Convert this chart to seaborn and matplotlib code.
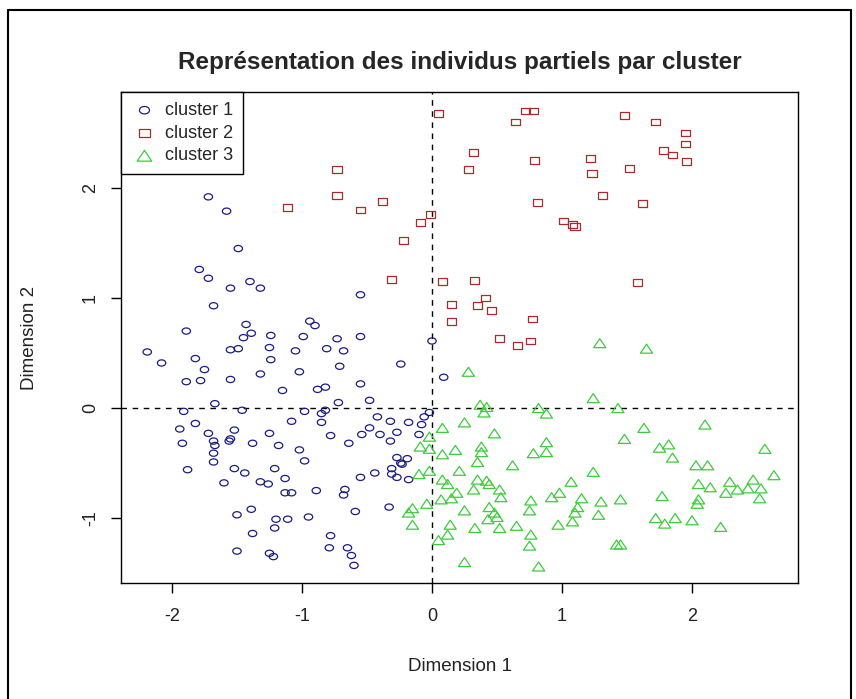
import matplotlib
matplotlib.use("Agg")
import matplotlib.pyplot as plt
from matplotlib.markers import MarkerStyle
from matplotlib.transforms import Affine2D
from matplotlib.lines import Line2D
import seaborn as sns

# cluster 1 (cercles bleus)
c1_x = [-1.72, -1.58, -1.49, -1.79, -1.72, -1.55, -1.40, -1.32, -1.68, -1.89,
        -1.43, -1.39, -1.45, -1.24, -0.94, -0.90, -0.99, -0.73, -2.19, -2.08,
        -1.82, -1.55, -1.49, -1.25, -1.24, -1.05, -0.81, -0.68, -0.71, -1.75,
        -1.89, -1.78, -1.55, -1.32, -1.02, -1.15, -0.88, -0.82, -0.72, -1.67,
        -1.91, -1.46, -0.98, -0.82, -0.85, -0.55, -0.55, -0.24, 0.00, 0.09,
        -0.55, -0.48, -0.02, -1.82, -1.08, -0.85, -1.94, -1.72, -1.52, -1.25,
        -0.78, -1.92, -1.68, -1.67, -1.55, -1.56, -1.38, -1.18, -1.02, -1.68,
        -1.68, -0.98, -0.64, -1.88, -1.52, -1.44, -1.21, -1.60, -1.32, -1.26,
        -1.13, -1.13, -1.08, -0.89, -0.67, -0.68, -1.39, -1.50, -1.20, -1.11,
        -0.95, -1.21, -1.38, -0.78, -0.79, -0.65, -1.50, -1.25, -1.22, -0.42,
        -0.32, -0.18, -0.08, -0.06, -0.48, -0.54, -0.40, -0.27, -0.10, -0.32,
        -0.27, -0.19, -0.23, -0.24, -0.31, -0.31, -0.27, -0.44, -0.55, -0.18,
        -0.59, -0.33, -0.62, -0.60]
c1_y = [1.92, 1.79, 1.45, 1.26, 1.18, 1.09, 1.15, 1.09, 0.93, 0.70,
        0.76, 0.68, 0.64, 0.66, 0.79, 0.75, 0.65, 0.63, 0.51, 0.41,
        0.45, 0.53, 0.54, 0.55, 0.44, 0.52, 0.54, 0.52, 0.38, 0.35,
        0.24, 0.25, 0.26, 0.31, 0.33, 0.16, 0.17, 0.19, 0.05, 0.04,
        -0.03, -0.02, -0.03, -0.02, -0.05, 1.03, 0.65, 0.40, 0.61, 0.28,
        0.22, 0.07, -0.04, -0.14, -0.12, -0.13, -0.19, -0.23, -0.20, -0.23,
        -0.25, -0.32, -0.30, -0.34, -0.28, -0.30, -0.32, -0.34, -0.38, -0.41,
        -0.49, -0.48, -0.32, -0.56, -0.55, -0.59, -0.55, -0.68, -0.67, -0.69,
        -0.64, -0.77, -0.77, -0.75, -0.74, -0.79, -0.92, -0.97, -1.01, -1.01,
        -0.99, -1.09, -1.14, -1.16, -1.27, -1.27, -1.30, -1.32, -1.35, -0.08,
        -0.12, -0.13, -0.15, -0.08, -0.18, -0.24, -0.24, -0.22, -0.24, -0.30,
        -0.45, -0.46, -0.51, -0.50, -0.55, -0.60, -0.63, -0.59, -0.63, -0.65,
        -0.94, -0.90, -1.34, -1.43]

# cluster 2 (carres rouges)
c2_x = [-1.11, -0.73, -0.73, -0.55, -0.38, -0.22, -0.31, -0.09, -0.01, 0.05,
        0.08, 0.15, 0.15, 0.28, 0.32, 0.33, 0.35, 0.41, 0.46, 0.52,
        0.64, 0.72, 0.78, 0.79, 0.81, 0.77, 0.66, 0.76, 1.01, 1.08,
        1.10, 1.22, 1.23, 1.31, 1.48, 1.52, 1.62, 1.58, 1.72, 1.78,
        1.85, 1.95, 1.95, 1.96]
c2_y = [1.82, 2.17, 1.93, 1.80, 1.88, 1.52, 1.17, 1.69, 1.76, 2.68,
        1.15, 0.94, 0.79, 2.17, 2.32, 1.16, 0.93, 1.00, 0.89, 0.63,
        2.60, 2.70, 2.70, 2.25, 1.87, 0.81, 0.57, 0.61, 1.70, 1.67,
        1.65, 2.27, 2.13, 1.93, 2.66, 2.18, 1.86, 1.14, 2.60, 2.34,
        2.30, 2.50, 2.40, 2.24]

# cluster 3 (triangles verts)
c3_x = [0.28, 0.37, 0.42, 0.40, 0.82, 0.88, 1.29, 1.65, 1.24, 1.43,
        0.25, 0.08, 0.48, -0.02, 0.88, -0.09, -0.02, 0.18, 0.38, 0.38,
        0.08, 0.78, 0.88, 0.35, 0.62, 0.21, -0.02, -0.10, 0.08, 0.12,
        0.35, 0.42, 0.44, 0.32, 0.52, 0.19, 0.53, 0.07, 0.15, 1.07,
        0.98, 0.92, 0.76, 0.75, 0.44, 0.48, 0.50, 0.43, 0.25, -0.04,
        -0.15, -0.18, -0.15, 0.14, 0.33, 0.52, 0.65, 0.97, 1.08, 0.12,
        0.05, 0.76, 0.75, 0.25, 0.82, 1.63, 2.10, 1.48, 1.75, 1.82,
        1.85, 2.56, 2.03, 2.12, 1.24, 2.63, 2.05, 2.14, 2.29, 2.26,
        2.35, 2.47, 2.43, 2.53, 2.52, 1.15, 1.30, 1.45, 1.77, 2.05,
        2.04, 1.12, 1.10, 1.28, 1.72, 1.79, 1.87, 2.00, 2.22, 1.42,
        1.45]
c3_y = [0.33, 0.03, 0.01, -0.04, 0.00, -0.05, 0.59, 0.54, 0.09, 0.00,
        -0.13, -0.18, -0.23, -0.26, -0.31, -0.35, -0.37, -0.38, -0.35, -0.40,
        -0.42, -0.41, -0.40, -0.49, -0.52, -0.57, -0.57, -0.60, -0.65, -0.69,
        -0.65, -0.66, -0.69, -0.74, -0.74, -0.77, -0.81, -0.83, -0.82, -0.67,
        -0.77, -0.81, -0.84, -0.93, -0.90, -0.95, -0.99, -1.01, -0.93, -0.87,
        -0.91, -0.95, -1.06, -1.06, -1.09, -1.09, -1.07, -1.06, -1.03, -1.15,
        -1.20, -1.15, -1.25, -1.40, -1.44, -0.18, -0.15, -0.28, -0.36, -0.33,
        -0.45, -0.37, -0.52, -0.52, -0.58, -0.61, -0.69, -0.72, -0.67, -0.77,
        -0.74, -0.65, -0.73, -0.73, -0.82, -0.82, -0.85, -0.83, -0.80, -0.83,
        -0.87, -0.90, -0.95, -0.97, -1.00, -1.05, -1.00, -1.02, -1.08, -1.24,
        -1.24]

labels = ["cluster 1", "cluster 2", "cluster 3"]
colors = ["#1c1c86", "#a82c2c", "#3ccc3c"]

sns.set_style("white")
plt.rcParams["font.family"] = ["Liberation Sans", "DejaVu Sans"]

fig = plt.figure(figsize=(8.56, 6.99), dpi=100)
ax = fig.add_axes([121 / 856, 1 - 583 / 699, 677 / 856, 491 / 699])

# l'image d'origine est un peu etiree en largeur
stretch = Affine2D().scale(1.35, 1.0)
markers = [MarkerStyle("o", transform=stretch),
           MarkerStyle("s", transform=stretch),
           MarkerStyle("^", transform=stretch)]
sizes = [20, 24, 42]

series = [(c1_x, c1_y), (c2_x, c2_y), (c3_x, c3_y)]
for (xs, ys), lab, col, mk, sz in zip(series, labels, colors, markers, sizes):
    sns.scatterplot(x=xs, y=ys, marker=mk, s=sz, ax=ax, label=lab,
                    linewidth=0.9)
    pts = ax.collections[-1]
    pts.set_facecolor("none")
    pts.set_edgecolor(col)

ax.axhline(0, color="black", lw=1, ls=(0, (4, 4)), zorder=0)
ax.axvline(0, color="black", lw=1, ls=(0, (4, 4)), zorder=0)

ax.set_xlim(-2.392, 2.815)
ax.set_ylim(-1.59, 2.873)
ax.set_xticks([-2, -1, 0, 1, 2])
ax.set_yticks([-1, 0, 1, 2])
ax.set_xticklabels(["-2", "-1", "0", "1", "2"])
ax.set_yticklabels(["-1", "0", "1", "2"], rotation=90, va="center")
ax.tick_params(direction="out", length=7, width=1, color="black",
               labelsize=13, labelcolor="#222222")
ax.tick_params(axis="x", pad=11)
ax.tick_params(axis="y", pad=9)
ax.xaxis.set_ticks_position("bottom")
ax.yaxis.set_ticks_position("left")
for sp in ax.spines.values():
    sp.set_color("black")
    sp.set_linewidth(1)

ax.set_xlabel("Dimension 1", fontsize=13.5, color="#222222")
ax.set_ylabel("Dimension 2", fontsize=13.5, color="#222222")
ax.xaxis.set_label_coords((460 - 121) / 677, -(658 - 583) / 491)
ax.yaxis.set_label_coords(-(121 - 38) / 677, 0.5)

fig.text(460 / 856, 1 - 62 / 699, "Représentation des individus partiels par cluster",
         ha="center", va="center", fontsize=17.5, fontweight="bold")

leg = ax.legend(loc="upper left", borderaxespad=0, fancybox=False,
                framealpha=1, edgecolor="black", fontsize=13,
                handletextpad=0.4, borderpad=0.55, labelspacing=0.32,
                handlelength=1.5, markerscale=1.2)
leg.get_frame().set_linewidth(1)

# cadre autour de l'image
fig.add_artist(Line2D([8 / 856, 8 / 856], [0, 1 - 10 / 699], color="black", lw=1.5))
fig.add_artist(Line2D([8 / 856, 851 / 856], [1 - 10 / 699, 1 - 10 / 699], color="black", lw=1.5))
fig.add_artist(Line2D([851 / 856, 851 / 856], [0, 1 - 10 / 699], color="black", lw=1.5))

fig.savefig("out.png", dpi=100)
